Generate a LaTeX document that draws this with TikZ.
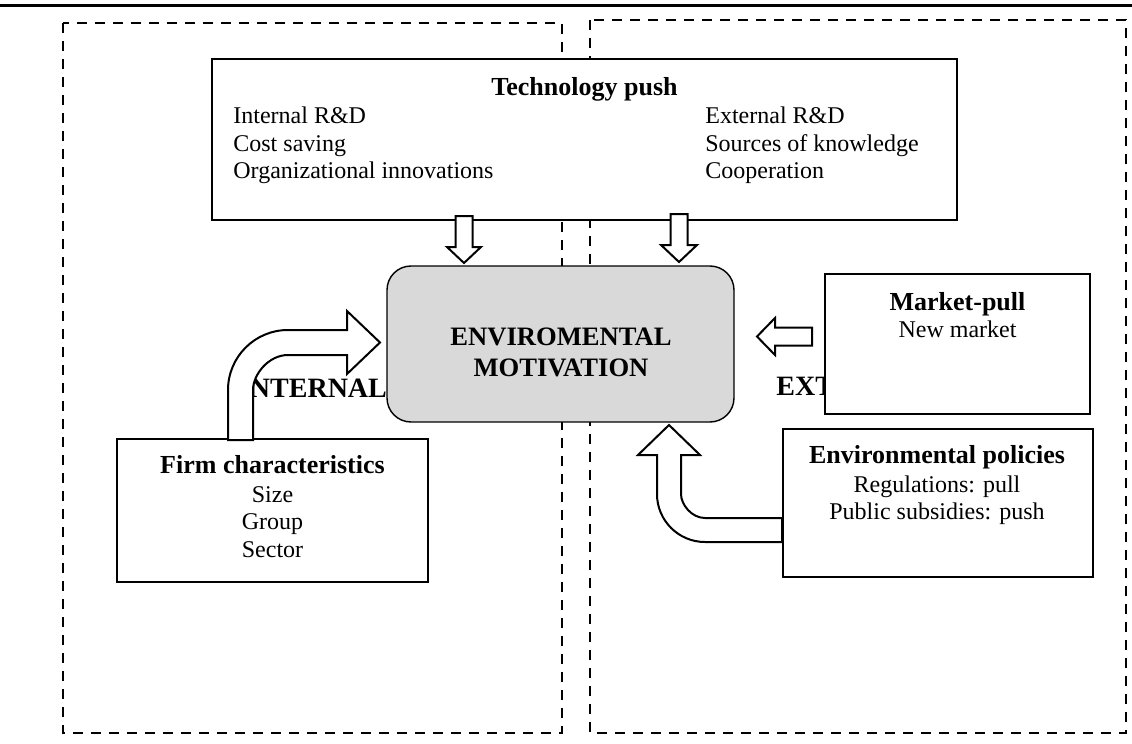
\documentclass[tikz,border=0pt]{standalone}
\usepackage{fontspec}
\setmainfont{Liberation Serif}
\usetikzlibrary{positioning}
\definecolor{motivgray}{RGB}{217,217,217}
\tikzset{%
	zone/.style={draw, line width=0.9pt, dash pattern=on 5pt off 4pt},
	box/.style={draw, rectangle, line width=1pt, fill=white, inner sep=0pt},
	motiv/.style={draw, rectangle, rounded corners=12pt, line width=0.7pt,%
		fill=motivgray, inner sep=0pt},
	blockarrow/.style={draw, line width=1pt, fill=white, line join=miter},
	title/.style={font=\fontsize{13}{15}\selectfont\bfseries, inner sep=0pt, anchor=base},
	item/.style={font=\fontsize{12}{13.5}\selectfont, inner sep=0pt, anchor=base},
	zonelabel/.style={font=\fontsize{14}{16}\selectfont\bfseries, inner sep=0pt}
}

\begin{document}
\begin{tikzpicture}[x=0.5pt, y=-0.5pt]
	\useasboundingbox (0,0) rectangle (1132,744);
	\draw[line width=1.5pt] (0,5) -- (1132,5);

	% internal and external parts
	\draw[zone] (63,23) rectangle (562,733);
	\draw[zone] (590,20) rectangle (1126,733);
	\node[zonelabel, anchor=base] (internal) at (313,397) {INTERNAL};
	\node[zonelabel, anchor=base west] (external) at (776,395) {EXTERNAL};

	\node[box, minimum width=372.5pt, minimum height=80.5pt] (tech) at (584.5,139.5) {};
	\node[motiv, minimum width=173.5pt, minimum height=78pt] (motiv) at (560.5,344) {};
	\node[box, minimum width=132.5pt, minimum height=70pt] (market) at (957.5,344) {};
	\node[box, minimum width=155pt, minimum height=74pt] (policy) at (938,503) {};
	\node[box, minimum width=155.5pt, minimum height=71.5pt] (firm) at (272.5,510.5) {};

	\node[title] (techtitle) at (584.5,95) {Technology push};
	\node[item, anchor=base west] (intrd) at (233,123) {Internal R\&D};
	\node[item, anchor=base west] (cost) at (233,151) {Cost saving};
	\node[item, anchor=base west] (org) at (233,178) {Organizational innovations};
	\node[item, anchor=base west] (extrd) at (705,123) {External R\&D};
	\node[item, anchor=base west] (sources) at (705,151) {Sources of knowledge};
	\node[item, anchor=base west] (coop) at (705,178) {Cooperation};

	\node[title, font=\fontsize{13.3}{15}\selectfont\bfseries] (motiv1) at (561,345) {ENVIROMENTAL};
	\node[title, font=\fontsize{13.3}{15}\selectfont\bfseries] (motiv2) at (561,376) {MOTIVATION};

	\node[title] (markettitle) at (957.5,310) {Market-pull};
	\node[item] (newmarket) at (957.5,337) {New market};

	\node[title] (policytitle) at (937,463) {Environmental policies};
	\node[item] (regul) at (937,492) {Regulations: pull};
	\node[item] (subsid) at (937,519) {Public subsidies: push};

	\node[title] (firmtitle) at (272.5,473) {Firm characteristics};
	\node[item] (size) at (272.5,502) {Size};
	\node[item] (group) at (272.5,529) {Group};
	\node[item] (sector) at (272.5,557) {Sector};

	% block arrows
	\draw[blockarrow] (455.5,216) -- (455.5,247) -- (447,247) -- (464,263) -- (481,247)
		-- (472.5,247) -- (472.5,216) -- cycle;
	\draw[blockarrow] (670.5,214) -- (670.5,245) -- (661,245) -- (679,262) -- (697,245)
		-- (687.5,245) -- (687.5,214) -- cycle;
	\draw[blockarrow] (812,327.5) -- (775,327.5) -- (775,318) -- (757,336.5) -- (775,355)
		-- (775,345.5) -- (812,345.5) -- cycle;
	\draw[blockarrow] (228,440) -- (228,390) .. controls (228,356.9) and (254.9,330) .. (288,330)
		-- (347,330) -- (347,311) -- (380,342.5) -- (347,374) -- (347,355) -- (288,355)
		.. controls (268.7,355) and (253,374.3) .. (253,390) -- (253,440) -- cycle;
	\draw[blockarrow] (782,518) -- (705,518) .. controls (691.75,518) and (681,504.75) .. (681,494)
		-- (681,455) -- (700,455) -- (669,425) -- (638,455) -- (657,455) -- (657,494)
		.. controls (657,520.5) and (678.5,542) .. (705,542) -- (782,542) -- cycle;
\end{tikzpicture}
\end{document}
